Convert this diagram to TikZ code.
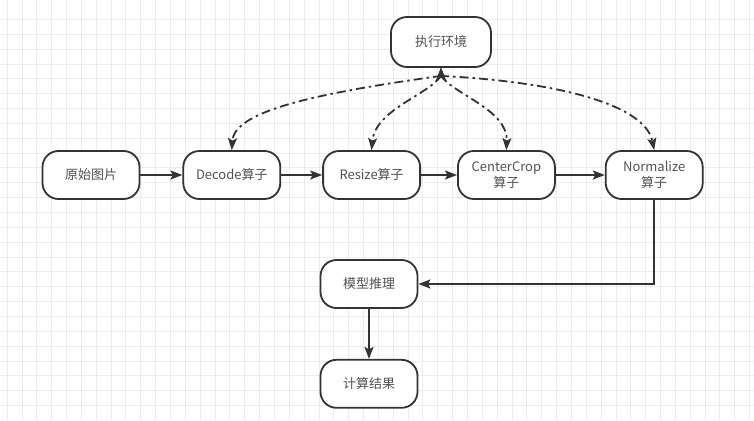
\documentclass[tikz,border=0pt]{standalone}
\usepackage{fontspec}
\setmainfont{Noto Sans CJK SC}
\usetikzlibrary{arrows.meta,positioning}
\definecolor{edgec}{HTML}{333333}
\definecolor{gridc}{HTML}{ECECEC}

\begin{document}
\begin{tikzpicture}[x=1pt, y=-1pt,
  op/.style={draw=edgec, fill=white, line width=1.8pt, rounded corners=16pt,
    minimum width=97pt, minimum height=48pt, inner sep=0pt, align=center,
    text=edgec!85, font=\fontsize{13}{16.5}\selectfont},
  flow/.style={draw=edgec, line width=1.8pt, -{Stealth[length=12pt, width=9pt, inset=2.5pt]}},
  envlink/.style={draw=edgec, line width=1.8pt, dash pattern=on 9pt off 4pt on 2.5pt off 4pt,
    {Stealth[length=12pt, width=9pt, inset=2.5pt]}-{Stealth[length=12pt, width=9pt, inset=2.5pt]}}
]
\useasboundingbox (0,0) rectangle (754,420);
\fill[white] (0,0) rectangle (754,420);
% grid
\foreach \gx in {0,...,50}
  \draw[gridc, line width=0.7pt] ({7+14.85*\gx},0) -- ({7+14.85*\gx},420);
\foreach \gy in {0,...,26}
  \draw[gridc, line width=0.7pt] (0,{19.3+14.85*\gy}) -- (754,{19.3+14.85*\gy});

% Define the nodes
\node (env) [op, minimum width=100pt, minimum height=50pt] at (441,42) {执行环境};
\node (orig) [op] at (91,175) {原始图片};
\node (dec) [op, right=42pt of orig] {Decode算子};
\node (rsz) [op, right=41pt of dec] {Resize算子};
\node (crop) [op, right=36pt of rsz] {CenterCrop\\算子};
\node (norm) [op, right=49pt of crop] {Normalize\\算子};
\node (infer) [op] at (369,284) {模型推理};
\node (res) [op, below=50pt of infer] {计算结果};

% Connect the nodes
\draw[flow] (orig) -- (dec);
\draw[flow] (dec) -- (rsz);
\draw[flow] (rsz) -- (crop);
\draw[flow] (crop) -- (norm);
\draw[flow] (norm.south) |- (infer.east);
\draw[flow] (infer) -- (res);

% runtime links
\draw[envlink] (env.south) -- ++(0,8) .. controls (310,94) and (234,112) .. (dec.north);
\draw[envlink] (env.south) -- ++(0,8) .. controls (428,95) and (375,110) .. (rsz.north);
\draw[envlink] (env.south) -- ++(0,8) .. controls (455,95) and (508,110) .. (crop.north);
\draw[envlink] (env.south) -- ++(0,8) .. controls (560,82) and (645,105) .. (norm.north);
\end{tikzpicture}
\end{document}
